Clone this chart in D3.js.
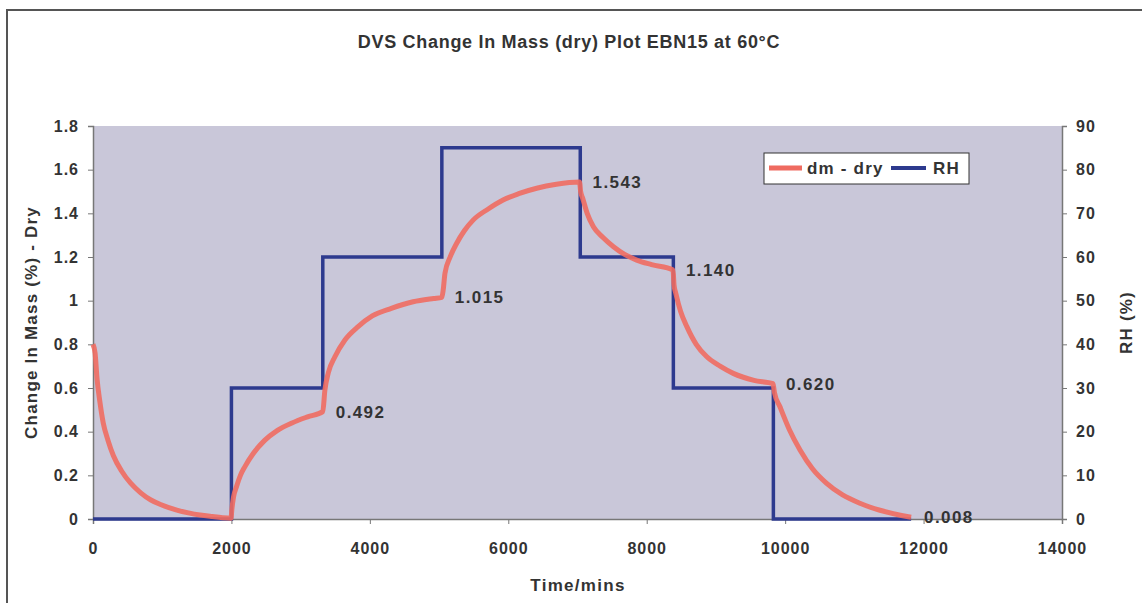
<!DOCTYPE html>
<html lang="en">
<head>
    <meta charset="UTF-8">
    <title>DVS Change In Mass (dry) Plot EBN15 at 60°C</title>
    <script src="https://d3js.org/d3.v7.min.js"></script>
    <style>
        body { margin: 0; background: #fff; }
        text { font-family: Arial, "Liberation Sans", sans-serif; font-weight: bold; fill: #333; }
    </style>
</head>
<body>
    <div id="chart"></div>
    <script>
        // RH set points (step after each time)
        const rhTimes = [0, 2000, 3320, 5040, 7040, 8385, 9830, 11820];
        const rhValues = [0, 30, 60, 85, 60, 30, 0, 0];

        // change in mass (dry)
        const dmTimes = [0, 30, 59, 98, 148, 217, 295, 413, 541, 689, 837, 985, 1211, 1378, 1546, 1723, 1871, 1995,
            2005, 2030, 2075, 2130, 2195, 2315, 2480, 2660, 2875, 3100, 3320,
            3350, 3400, 3495, 3640, 3830, 4035, 4310, 4625, 4920, 5040,
            5060, 5085, 5160, 5255, 5365, 5495, 5710, 5925, 6150, 6410, 6695, 7030,
            7045, 7075, 7140, 7230, 7365, 7520, 7680, 7855, 8070, 8380,
            8395, 8420, 8490, 8580, 8715, 8865, 9060, 9250, 9550, 9825,
            9845, 9925, 10060, 10215, 10395, 10600, 10830, 11080, 11370, 11820];
        const dmValues = [0.80, 0.76, 0.64, 0.54, 0.44, 0.36, 0.29, 0.22, 0.165, 0.12, 0.087, 0.065, 0.041, 0.028, 0.018, 0.011, 0.006, 0.004,
            0.04, 0.10, 0.15, 0.20, 0.24, 0.30, 0.36, 0.405, 0.44, 0.468, 0.492,
            0.59, 0.67, 0.743, 0.82, 0.881, 0.93, 0.965, 0.995, 1.01, 1.015,
            1.05, 1.125, 1.20, 1.263, 1.32, 1.37, 1.42, 1.461, 1.49, 1.515, 1.533, 1.543,
            1.50, 1.469, 1.40, 1.339, 1.29, 1.247, 1.212, 1.186, 1.165, 1.14,
            1.07, 1.034, 0.95, 0.881, 0.80, 0.744, 0.70, 0.667, 0.635, 0.62,
            0.58, 0.514, 0.41, 0.316, 0.23, 0.163, 0.11, 0.072, 0.04, 0.008];

        // end-of-step values written on the chart
        const labelTimes = [3320, 5040, 7030, 8380, 9825, 11820];
        const labelValues = [0.492, 1.015, 1.543, 1.140, 0.620, 0.008];

        const xTicks = [0, 2000, 4000, 6000, 8000, 10000, 12000, 14000];
        const yTicks = [0, 0.2, 0.4, 0.6, 0.8, 1, 1.2, 1.4, 1.6, 1.8];
        const rhTicks = [0, 10, 20, 30, 40, 50, 60, 70, 80, 90];

        const width = 1142, height = 603;
        const margin = { top: 126, right: 80, bottom: 84, left: 93 };

        const svg = d3.select("#chart").append("svg")
            .attr("width", width)
            .attr("height", height);

        // outer frame
        svg.append("rect")
            .attr("x", 7).attr("y", 10)
            .attr("width", 1200).attr("height", 700)
            .attr("fill", "none")
            .attr("stroke", "#555")
            .attr("stroke-width", 2);

        const x = d3.scaleLinear().domain([0, 14000]).range([margin.left, width - margin.right]);
        const y = d3.scaleLinear().domain([0, 1.8]).range([height - margin.bottom, margin.top]);
        const yRH = d3.scaleLinear().domain([0, 90]).range([height - margin.bottom, margin.top]);

        // plot area
        svg.append("rect")
            .attr("x", x(0)).attr("y", y(1.8))
            .attr("width", x(14000) - x(0)).attr("height", y(0) - y(1.8))
            .attr("fill", "#c9c7d9");

        const styleAxis = g => {
            g.select(".domain").attr("stroke", "#777").attr("stroke-width", 1.5);
            g.selectAll(".tick line").attr("stroke", "#777");
            g.selectAll(".tick text")
                .attr("font-size", "16px")
                .attr("letter-spacing", "1px")
                .attr("font-family", "Arial, 'Liberation Sans', sans-serif")
                .attr("font-weight", "bold")
                .attr("fill", "#333");
        };

        svg.append("g")
            .attr("transform", `translate(0,${y(0)})`)
            .call(d3.axisBottom(x).tickValues(xTicks).tickFormat(d3.format("d")).tickSizeOuter(0).tickSize(5).tickPadding(19))
            .call(styleAxis);

        svg.append("g")
            .attr("transform", `translate(${x(0)},0)`)
            .call(d3.axisLeft(y).tickValues(yTicks).tickFormat(d => d3.format("~g")(d)).tickSizeOuter(0).tickSize(5).tickPadding(9))
            .call(styleAxis);

        svg.append("g")
            .attr("transform", `translate(${x(14000)},0)`)
            .call(d3.axisRight(yRH).tickValues(rhTicks).tickSizeOuter(0).tickSize(5).tickPadding(9))
            .call(styleAxis);

        // RH step line
        const rhData = rhTimes.map((t, i) => [t, rhValues[i]]);
        svg.append("path")
            .datum(rhData)
            .attr("fill", "none")
            .attr("stroke", "#2d3a8e")
            .attr("stroke-width", 3.5)
            .attr("d", d3.line().x(d => x(d[0])).y(d => yRH(d[1])).curve(d3.curveStepAfter));

        // dm - dry curve
        const dmData = dmTimes.map((t, i) => [t, dmValues[i]]);
        svg.append("path")
            .datum(dmData)
            .attr("fill", "none")
            .attr("stroke", "#ef6b60")
            .attr("stroke-opacity", 0.9)
            .attr("stroke-width", 5)
            .attr("stroke-linejoin", "round")
            .attr("d", d3.line().x(d => x(d[0])).y(d => y(d[1])).curve(d3.curveMonotoneX));

        // value labels
        svg.selectAll(".vlabel")
            .data(labelTimes.map((t, i) => [t, labelValues[i]]))
            .enter()
            .append("text")
            .attr("x", d => x(d[0]) + 13)
            .attr("y", d => y(d[1]) + 6)
            .attr("font-size", "17px")
            .attr("letter-spacing", "1.4px")
            .text(d => d3.format(".3f")(d[1]));

        // titles
        svg.append("text")
            .attr("x", 569).attr("y", 48)
            .attr("text-anchor", "middle")
            .attr("font-size", "18px")
            .attr("letter-spacing", "0.7px")
            .text("DVS Change In Mass (dry) Plot EBN15 at 60°C");

        svg.append("text")
            .attr("x", 578).attr("y", 591)
            .attr("text-anchor", "middle")
            .attr("font-size", "17px")
            .attr("letter-spacing", "1.3px")
            .text("Time/mins");

        svg.append("text")
            .attr("transform", `translate(37,${(y(0) + y(1.8)) / 2}) rotate(-90)`)
            .attr("text-anchor", "middle")
            .attr("font-size", "17px")
            .attr("letter-spacing", "1.2px")
            .text("Change In Mass (%) - Dry");

        svg.append("text")
            .attr("transform", `translate(1132,${(y(0) + y(1.8)) / 2}) rotate(-90)`)
            .attr("text-anchor", "middle")
            .attr("font-size", "17px")
            .attr("letter-spacing", "1.2px")
            .text("RH (%)");

        // legend
        const legend = svg.append("g").attr("transform", "translate(764,153)");
        legend.append("rect")
            .attr("width", 205).attr("height", 31)
            .attr("fill", "#fff")
            .attr("stroke", "#333")
            .attr("stroke-width", 1);
        legend.append("line")
            .attr("x1", 5).attr("x2", 38).attr("y1", 15).attr("y2", 15)
            .attr("stroke", "#ef6b60").attr("stroke-width", 5);
        legend.append("text").attr("x", 43).attr("y", 21).attr("font-size", "17px").attr("letter-spacing", "1.2px").text("dm - dry");
        legend.append("line")
            .attr("x1", 127).attr("x2", 162).attr("y1", 15).attr("y2", 15)
            .attr("stroke", "#2d3a8e").attr("stroke-width", 4);
        legend.append("text").attr("x", 169).attr("y", 21).attr("font-size", "17px").attr("letter-spacing", "1.2px").text("RH");
    </script>
</body>
</html>
